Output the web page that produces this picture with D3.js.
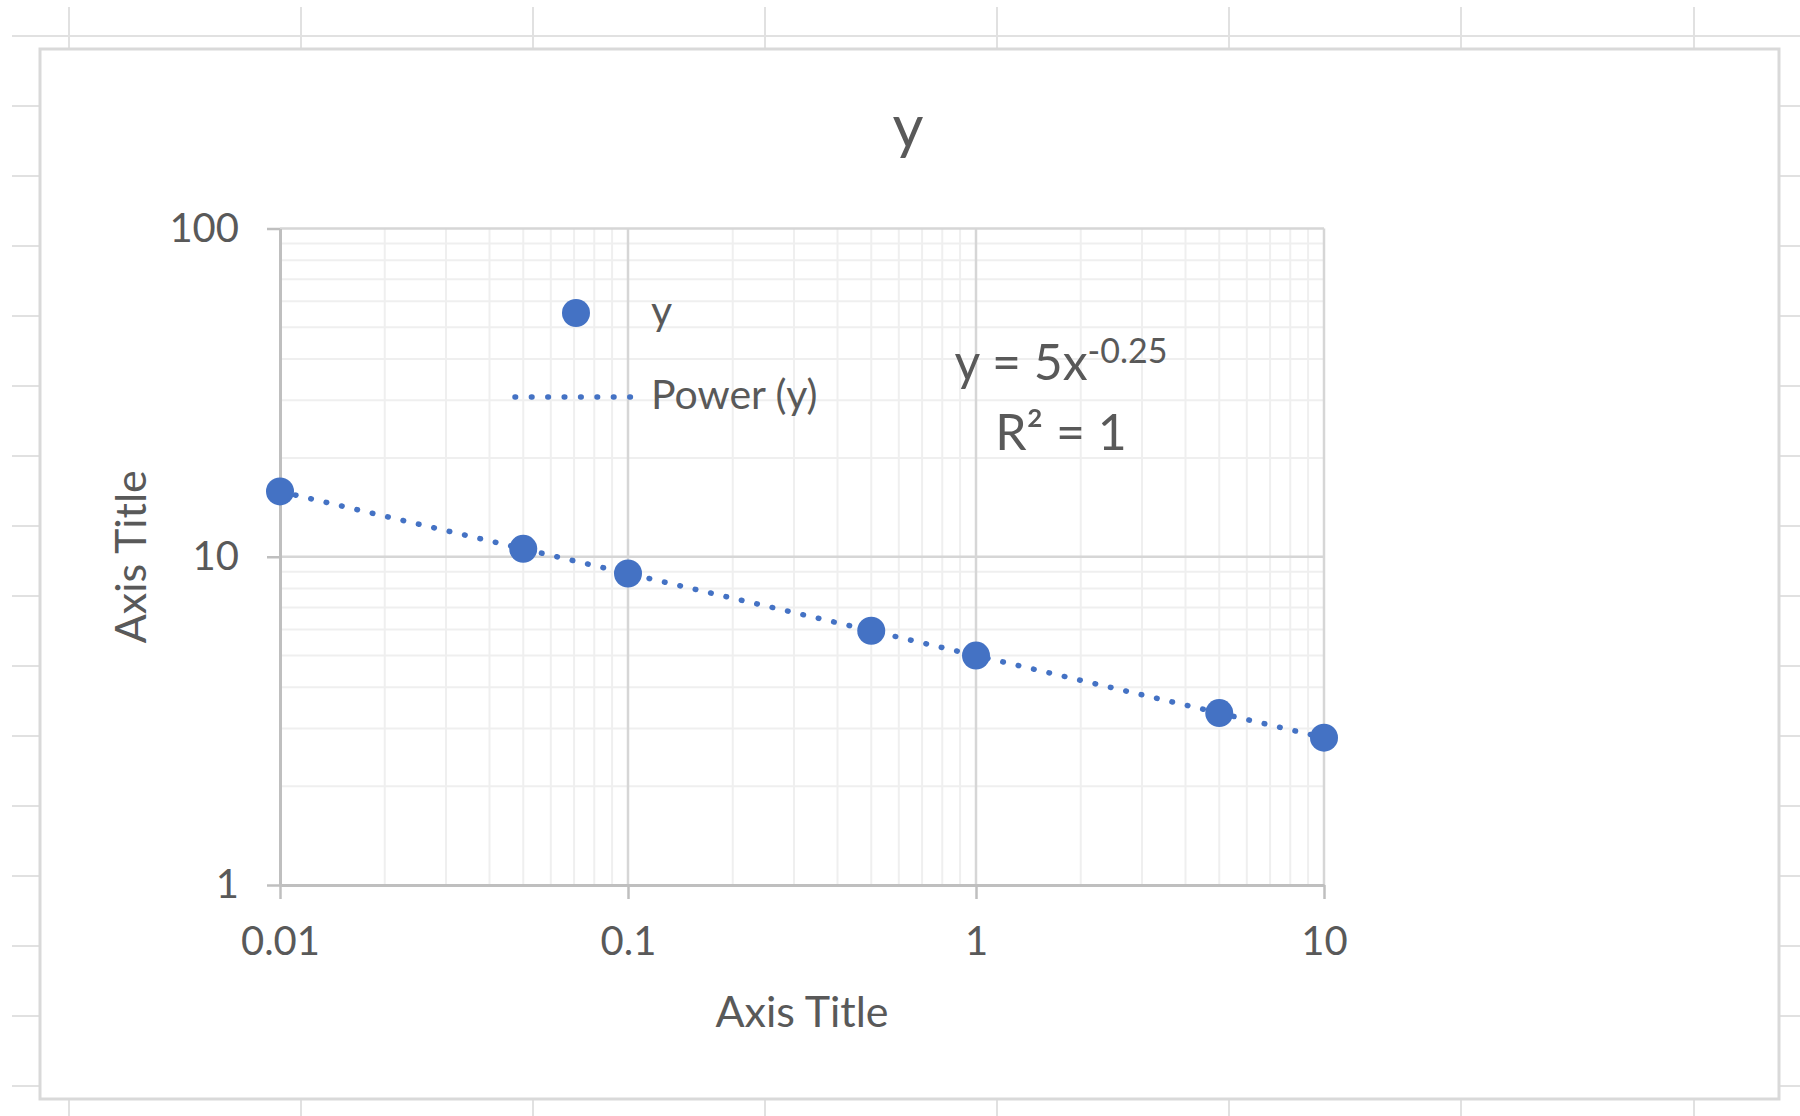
<!DOCTYPE html>
<html>
<head>
<meta charset="utf-8">
<script src="https://cdn.jsdelivr.net/npm/d3@7"></script>
<style>
  html, body { margin: 0; padding: 0; background: #fff; }
  svg { display: block; font-family: Lato, "Open Sans", sans-serif; }
</style>
</head>
<body>
<svg id="chart" width="1800" height="1116"></svg>
<script>
// ---- data ----
const xValues = [0.01, 0.05, 0.1, 0.5, 1, 5, 10];
const yValues = [15.81, 10.57, 8.89, 5.95, 5, 3.34, 2.81];
const xTickValues = [0.01, 0.1, 1, 10];
const xTickLabels = ["0.01", "0.1", "1", "10"];
const yTickValues = [1, 10, 100];
const yTickLabels = ["1", "10", "100"];
const seriesName = "y";
const trendName = "Power (y)";
const chartTitle = "y";
const xAxisTitle = "Axis Title";
const yAxisTitle = "Axis Title";
const eqMain = "y = 5x";
const eqExp = "-0.25";
const eqR2 = "R² = 1";
// spreadsheet background grid (decorative)
const sheetCols = [69, 301, 533, 765, 997, 1229, 1461, 1694];
const sheetRows = [36, 106, 176, 246, 316, 386, 456, 526, 596, 666, 736, 806, 876, 946, 1016, 1086];

const blue = "#4472C4";
const textColor = "#595959";
const svg = d3.select("#chart");

// background
svg.append("rect").attr("width", 1800).attr("height", 1116).attr("fill", "#fff");
const sheet = svg.append("g").attr("stroke", "#e1e1e1").attr("stroke-width", 2);
sheet.selectAll("line.r").data(sheetRows).enter().append("line")
  .attr("x1", 12).attr("x2", 1800).attr("y1", d => d).attr("y2", d => d);
sheet.selectAll("line.c").data(sheetCols).enter().append("line")
  .attr("x1", d => d).attr("x2", d => d).attr("y1", 7).attr("y2", 1116);

// chart area
svg.append("rect").attr("x", 40).attr("y", 49).attr("width", 1739).attr("height", 1050)
  .attr("fill", "#fff").attr("stroke", "#d9d9d9").attr("stroke-width", 3);

const x = d3.scaleLog().domain([0.01, 10]).range([280, 1324]);
const y = d3.scaleLog().domain([1, 100]).range([885, 228.5]);

const isMajor = v => Math.abs(Math.log10(v) - Math.round(Math.log10(v))) < 1e-9;
const xAll = x.ticks();
const yAll = y.ticks();

// minor gridlines
const grid = svg.append("g");
grid.selectAll("line.mx").data(xAll.filter(v => !isMajor(v))).enter().append("line")
  .attr("x1", d => x(d)).attr("x2", d => x(d)).attr("y1", y(100)).attr("y2", y(1))
  .attr("stroke", "#efefef").attr("stroke-width", 2);
grid.selectAll("line.my").data(yAll.filter(v => !isMajor(v))).enter().append("line")
  .attr("x1", x(0.01)).attr("x2", x(10)).attr("y1", d => y(d)).attr("y2", d => y(d))
  .attr("stroke", "#efefef").attr("stroke-width", 2);
// major gridlines
grid.selectAll("line.Mx").data(xTickValues.slice(1)).enter().append("line")
  .attr("x1", d => x(d)).attr("x2", d => x(d)).attr("y1", y(100)).attr("y2", y(1))
  .attr("stroke", "#d6d6d6").attr("stroke-width", 2.5);
grid.selectAll("line.My").data(yTickValues.slice(1)).enter().append("line")
  .attr("x1", x(0.01)).attr("x2", x(10)).attr("y1", d => y(d)).attr("y2", d => y(d))
  .attr("stroke", "#d6d6d6").attr("stroke-width", 2.5);

// axes
const xAxis = d3.axisBottom(x).tickValues(xTickValues)
  .tickFormat((d, i) => xTickLabels[i]).tickSize(14).tickSizeOuter(0).tickPadding(28);
const yAxis = d3.axisLeft(y).tickValues(yTickValues)
  .tickFormat((d, i) => yTickLabels[i]).tickSize(13).tickSizeOuter(0).tickPadding(28);

function styleAxis(g) {
  g.select(".domain").attr("stroke", "#bfbfbf").attr("stroke-width", 3);
  g.selectAll(".tick line").attr("stroke", "#bfbfbf").attr("stroke-width", 2.5);
  g.selectAll(".tick text").attr("fill", textColor).style("font-size", "40px")
    .style("font-family", "Lato, 'Open Sans', sans-serif");
}
svg.append("g").attr("transform", `translate(0,${y(1)})`).call(xAxis).call(styleAxis);
svg.append("g").attr("transform", `translate(${x(0.01)},0)`).call(yAxis).call(styleAxis);

// trendline (dotted) through the series
const line = d3.line().x((d, i) => x(xValues[i])).y(d => y(d));
svg.append("path").datum(yValues).attr("d", line)
  .attr("fill", "none").attr("stroke", blue).attr("stroke-width", 5.5)
  .attr("stroke-linecap", "round").attr("stroke-dasharray", "0.6 15.2");

// markers
svg.append("g").selectAll("circle").data(yValues).enter().append("circle")
  .attr("cx", (d, i) => x(xValues[i])).attr("cy", d => y(d)).attr("r", 14)
  .attr("fill", blue);

// title
svg.append("text").attr("x", 908).attr("y", 148).attr("text-anchor", "middle")
  .attr("fill", textColor).style("font-size", "60px").text(chartTitle);

// axis titles
svg.append("text").attr("x", (x(0.01) + x(10)) / 2).attr("y", 1027).attr("text-anchor", "middle")
  .attr("fill", textColor).style("font-size", "43px").text(xAxisTitle);
svg.append("text").attr("transform", `translate(146,${(y(1) + y(100)) / 2}) rotate(-90)`)
  .attr("text-anchor", "middle").attr("fill", textColor).style("font-size", "43px").text(yAxisTitle);

// legend
const leg = svg.append("g");
leg.append("circle").attr("cx", 576).attr("cy", 313).attr("r", 14).attr("fill", blue);
leg.append("line").attr("x1", 515).attr("x2", 631).attr("y1", 397).attr("y2", 397)
  .attr("stroke", blue).attr("stroke-width", 5.5).attr("stroke-linecap", "round")
  .attr("stroke-dasharray", "0.6 15.8");
leg.append("text").attr("x", 651).attr("y", 325).attr("fill", textColor)
  .style("font-size", "41px").text(seriesName);
leg.append("text").attr("x", 651).attr("y", 409).attr("fill", textColor)
  .style("font-size", "41px").text(trendName);

// equation label
const eq = svg.append("text").attr("x", 1061).attr("y", 380).attr("text-anchor", "middle")
  .attr("fill", textColor).style("font-size", "50px");
eq.append("tspan").text(eqMain);
eq.append("tspan").attr("dy", -17).style("font-size", "34px").text(eqExp);
svg.append("text").attr("x", 1061).attr("y", 450).attr("text-anchor", "middle")
  .attr("fill", textColor).style("font-size", "50px").text(eqR2);
</script>
</body>
</html>
